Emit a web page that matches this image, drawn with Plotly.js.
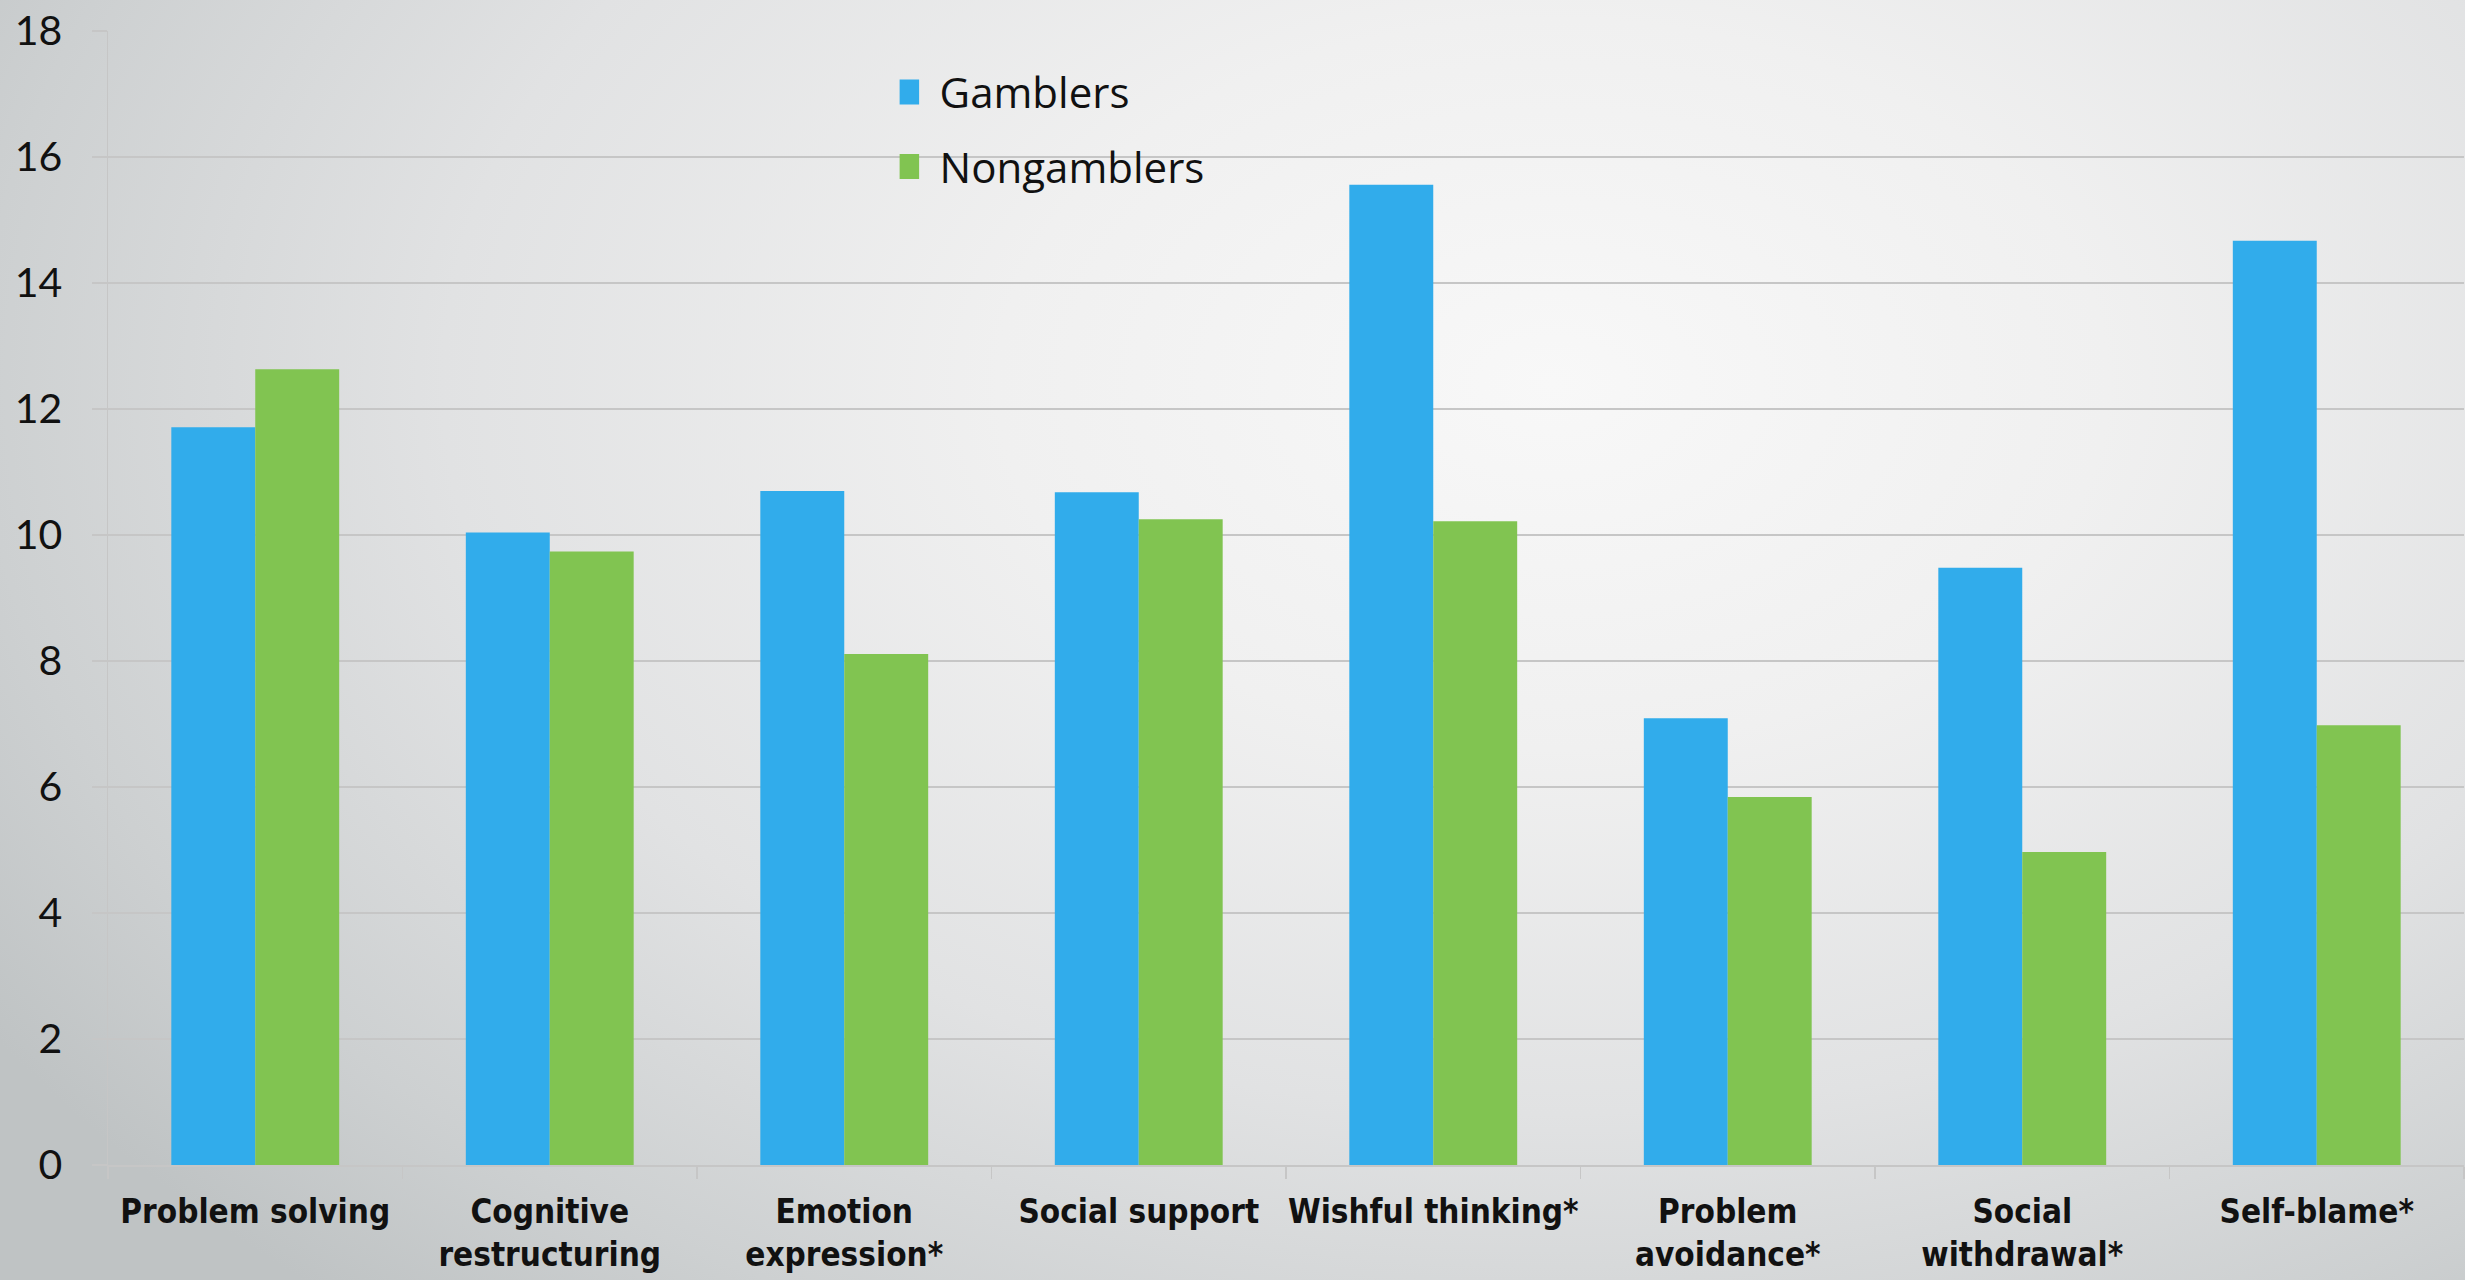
<!DOCTYPE html>
<html>
<head>
<meta charset="utf-8">
<script src="https://cdn.plot.ly/plotly-3.0.1.min.js"></script>
<style>
  html, body { margin: 0; padding: 0; }
  body {
    width: 2465px; height: 1280px; overflow: hidden;
    background: radial-gradient(ellipse 75% 95% at 63% 30%, #f8f8f8 0%, #f0f0f0 30%, #e1e2e3 60%, #cdd0d1 85%, #bfc3c4 100%);
  }
  #chart { width: 2465px; height: 1280px; }
</style>
</head>
<body>
<div id="chart"></div>
<script>
const categories = [
  "Problem solving",
  "Cognitive<br>restructuring",
  "Emotion<br>expression*",
  "Social support",
  "Wishful thinking*",
  "Problem<br>avoidance*",
  "Social<br>withdrawal*",
  "Self-blame*"
];
const gamblers    = [11.71, 10.04, 10.70, 10.68, 15.56, 7.09, 9.48, 14.67];
const nongamblers = [12.63,  9.74,  8.11, 10.25, 10.22, 5.84, 4.97,  6.98];
const yTicks = [0, 2, 4, 6, 8, 10, 12, 14, 16, 18];

const BLUE = "#31ACEB";
const GREEN = "#81C451";
const GRID = "#c6c6c6";

const traces = [
  { type: "bar", name: "Gamblers", x: categories, y: gamblers,
    marker: { color: BLUE, line: { width: 0 } }, legendgroup: "g" },
  { type: "bar", name: "Nongamblers", x: categories, y: nongamblers,
    marker: { color: GREEN, line: { width: 0 } }, legendgroup: "n" }
];

const layout = {
  width: 2465, height: 1280,
  margin: { l: 108, r: 1, t: 31, b: 115, pad: 0 },
  paper_bgcolor: "rgba(0,0,0,0)",
  plot_bgcolor: "rgba(0,0,0,0)",
  barmode: "group",
  bargap: 0.43,
  bargroupgap: 0,
  showlegend: true,
  legend: {
    x: 0.336, xanchor: "left", y: 0.976, yanchor: "top",
    bgcolor: "rgba(0,0,0,0)",
    font: { family: "Open Sans, Noto Sans, sans-serif", size: 42, color: "#111" },
    traceorder: "grouped", tracegroupgap: 17,
    itemwidth: 30
  },
  xaxis: {
    type: "category",
    automargin: false,
    tickson: "boundaries",
    ticks: "outside", ticklen: 12, tickwidth: 1.5, tickcolor: GRID,
    showline: true, linecolor: GRID, linewidth: 2,
    showgrid: false,
    ticklabelstandoff: 16,
    tickfont: { family: "DejaVu Sans Condensed, sans-serif", size: 33, weight: "bold", color: "#111" },
    tickangle: 0
  },
  yaxis: {
    range: [0, 18],
    automargin: false,
    tickvals: yTicks,
    ticktext: yTicks.map(String),
    ticks: "outside", ticklen: 15, tickwidth: 2, tickcolor: GRID,
    showline: true, linecolor: GRID, linewidth: 1.5,
    showgrid: true, gridcolor: GRID, gridwidth: 2,
    zeroline: false,
    ticklabelstandoff: 21,
    tickfont: { family: "Lato, Open Sans, sans-serif", size: 41, color: "#111" }
  }
};

Plotly.newPlot("chart", traces, layout, { displayModeBar: false, staticPlot: true }).then(function () {
  document.querySelectorAll(".legendpoints path").forEach(function (p) {
    p.setAttribute("d", "M12.5,12.5H-12.5V-12.5H12.5Z");
    p.setAttribute("transform", "translate(7,0)");
  });
});
</script>
</body>
</html>
